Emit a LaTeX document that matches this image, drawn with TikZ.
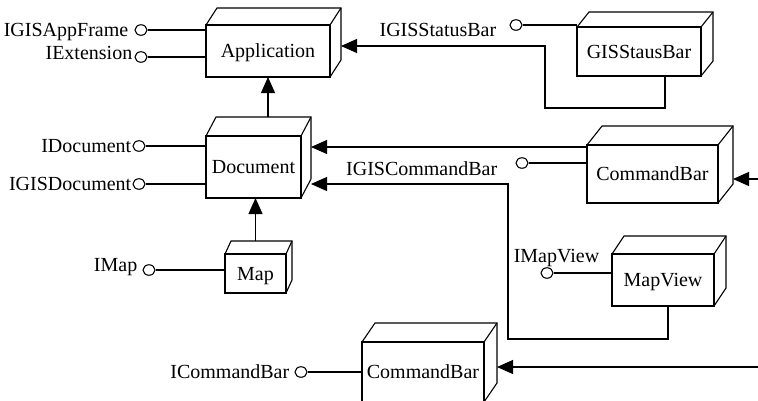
\documentclass[tikz,border=0pt]{standalone}
\usepackage{fontspec}
\setmainfont{Liberation Serif}
\usetikzlibrary{positioning,calc,arrows.meta,shapes.geometric}
\tikzset{
  comp/.style={draw, rectangle, inner sep=0pt, outer sep=0pt, line width=1.1pt,
    text height=13.5pt, text depth=0pt},
  iface/.style={draw, ellipse, minimum width=12pt, minimum height=10.5pt,
    inner sep=0pt, line width=1.1pt},
  iname/.style={inner sep=0pt, text height=13.5pt, text depth=0pt},
  link/.style={line width=1.1pt},
  dep/.style={line width=1.1pt, -{Triangle[length=16pt,width=14pt]}},
}
\newcommand{\compdepth}[3]{%
  \draw[link] (#1.north west) -- ++(#2,#3) -- ($(#1.north east)+(#2,#3)$)
    -- ($(#1.south east)+(#2,#3)$) -- (#1.south east);
  \draw[link] (#1.north east) -- ++(#2,#3);}

\begin{document}
\begin{tikzpicture}[x=1pt, y=-1pt, font=\fontsize{20}{24}\selectfont]
  \useasboundingbox (0,0) rectangle (758,400);
  \node[comp, minimum width=124pt, minimum height=52pt] (app) at (268,51) {Application};
  \node[comp, minimum width=95pt, minimum height=62pt] (doc) at (253.5,167) {Document};
  \node[comp, minimum width=61pt, minimum height=39pt] (map) at (255.5,273.5) {Map};
  \node[comp, minimum width=122pt, minimum height=60pt] (cbb) at (423,372) {CommandBar};
  \node[comp, minimum width=124pt, minimum height=49pt] (gsb) at (639,51.5) {GISStausBar};
  \node[comp, minimum width=131pt, minimum height=58pt] (cbr) at (652.5,174) {CommandBar};
  \node[comp, minimum width=102pt, minimum height=52pt] (mv) at (663,280) {MapView};
  \compdepth{app}{11}{-17}
  \compdepth{doc}{10}{-19}
  \compdepth{map}{6}{-13}
  \compdepth{cbb}{13}{-19}
  \compdepth{gsb}{12}{-15}
  \compdepth{cbr}{15}{-19}
  \compdepth{mv}{12}{-18}

  \node[iface] (ifrm) at (141,30) {};
  \node[iface] (iext) at (141,57) {};
  \node[iface] (idoc) at (139,146) {};
  \node[iface] (igdoc) at (139,184) {};
  \node[iface] (imap) at (149,270) {};
  \node[iface] (icbb) at (301,372) {};
  \node[iface] (isb) at (516,25) {};
  \node[iface] (igcb) at (522,163) {};
  \node[iface] (imv) at (547,273) {};
  \node[iname, left=6pt of ifrm] (tfrm) {IGISAppFrame};
  \node[iname, left=2pt of iext, yshift=4.5pt] (text) {IExtension};
  \node[iname, left=1pt of idoc] (tdoc) {IDocument};
  \node[iname, left=1pt of igdoc] (tgdoc) {IGISDocument};
  \node[iname, left=5pt of imap, yshift=5pt] (tmap) {IMap};
  \node[iname, left=5pt of icbb] (tcbb) {ICommandBar};
  \node[iname, left=13pt of isb, yshift=-4.5pt] (tsb) {IGISStatusBar};
  \node[iname, left=18pt of igcb, yshift=-6pt] (tgcb) {IGISCommandBar};
  \node[iname, above=5pt of imv, xshift=9.5pt] (tmv) {IMapView};

  \draw[link] (ifrm) -- (app.west |- ifrm);
  \draw[link] (iext) -- (app.west |- iext);
  \draw[link] (idoc) -- (doc.west |- idoc);
  \draw[link] (igdoc) -- (doc.west |- igdoc);
  \draw[link] (imap) -- (map.west |- imap);
  \draw[link] (icbb) -- (cbb.west |- icbb);
  \draw[link] (isb) -- (gsb.west |- isb);
  \draw[link] (igcb) -- (cbr.west |- igcb);
  \draw[link] (imv) -- (mv.west |- imv);

  \coordinate (cbrin) at (758,179);
  \coordinate (cbbin) at (758,367);
  \draw[dep] (doc.north) ++(14.5,-19) -- (app.south);
  \draw[dep] (map.north) ++(0,-13) -- (doc.south -| map.north);
  \draw[dep] ([xshift=-36pt]gsb.south east) |- (545,108) |- ($(app.east)+(11,-5)$);
  \draw[dep] ([yshift=-2pt]cbr.north west) -- ($(doc.east)+(10,-20)$);
  \draw[dep] ([xshift=5pt]mv.south) |- (508,339) |- ($(doc.east)+(10,17)$);
  \draw[dep] (cbrin) -- ($(cbr.east)+(15,5)$);
  \draw[dep] (cbbin) -- ($(cbb.east)+(13,-5)$);
\end{tikzpicture}
\end{document}
